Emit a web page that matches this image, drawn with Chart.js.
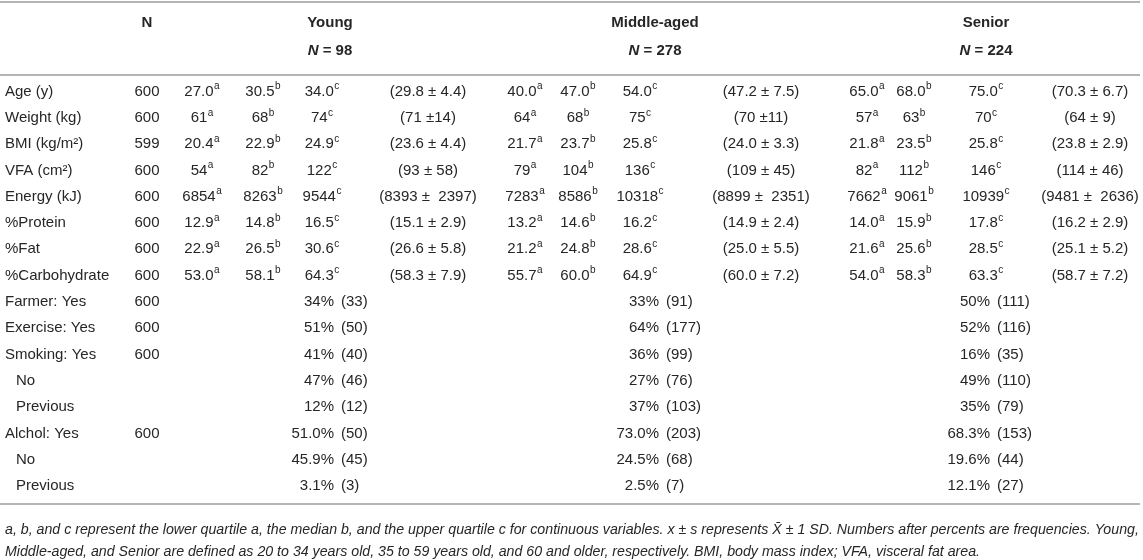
<!DOCTYPE html>
<html>
<head>
<meta charset="utf-8">
<script src="https://cdn.jsdelivr.net/npm/chart.js@4.4.1/dist/chart.umd.min.js"></script>
<style>
html,body{margin:0;padding:0;background:#ffffff;}
#wrap{position:relative;width:1143px;height:560px;overflow:hidden;}
canvas{display:block;}
</style>
</head>
<body>
<div id="wrap"><canvas id="tbl" width="1143" height="560"></canvas></div>
<script>
// ---------------- DATA ----------------
const groups = ["Young", "Middle-aged", "Senior"];
const groupN = [98, 278, 224];
const headerN = "N";

const rowLabels = ["Age (y)", "Weight (kg)", "BMI (kg/m\u00B2)", "VFA (cm\u00B2)", "Energy (kJ)", "%Protein", "%Fat", "%Carbohydrate",
  "Farmer: Yes", "Exercise: Yes", "Smoking: Yes", "No", "Previous", "Alchol: Yes", "No", "Previous"];
const subRows = [11, 12, 14, 15];
const nValues = [600, 600, 599, 600, 600, 600, 600, 600, 600, 600, 600, null, null, 600, null, null];

// continuous variables (rows 0-7): lower quartile (a), median (b), upper quartile (c), mean ± SD
const youngQ1  = ["27.0", "61", "20.4", "54", "6854", "12.9", "22.9", "53.0"];
const youngMed = ["30.5", "68", "22.9", "82", "8263", "14.8", "26.5", "58.1"];
const youngQ3  = ["34.0", "74", "24.9", "122", "9544", "16.5", "30.6", "64.3"];
const youngSD  = ["(29.8 \u00B1 4.4)", "(71 \u00B114)", "(23.6 \u00B1 4.4)", "(93 \u00B1 58)", "(8393 \u00B1  2397)", "(15.1 \u00B1 2.9)", "(26.6 \u00B1 5.8)", "(58.3 \u00B1 7.9)"];

const middleQ1  = ["40.0", "64", "21.7", "79", "7283", "13.2", "21.2", "55.7"];
const middleMed = ["47.0", "68", "23.7", "104", "8586", "14.6", "24.8", "60.0"];
const middleQ3  = ["54.0", "75", "25.8", "136", "10318", "16.2", "28.6", "64.9"];
const middleSD  = ["(47.2 \u00B1 7.5)", "(70 \u00B111)", "(24.0 \u00B1 3.3)", "(109 \u00B1 45)", "(8899 \u00B1  2351)", "(14.9 \u00B1 2.4)", "(25.0 \u00B1 5.5)", "(60.0 \u00B1 7.2)"];

const seniorQ1  = ["65.0", "57", "21.8", "82", "7662", "14.0", "21.6", "54.0"];
const seniorMed = ["68.0", "63", "23.5", "112", "9061", "15.9", "25.6", "58.3"];
const seniorQ3  = ["75.0", "70", "25.8", "146", "10939", "17.8", "28.5", "63.3"];
const seniorSD  = ["(70.3 \u00B1 6.7)", "(64 \u00B1 9)", "(23.8 \u00B1 2.9)", "(114 \u00B1 46)", "(9481 \u00B1  2636)", "(16.2 \u00B1 2.9)", "(25.1 \u00B1 5.2)", "(58.7 \u00B1 7.2)"];

// categorical variables (rows 8-15): percent and frequency
const youngPct   = ["34%", "51%", "41%", "47%", "12%", "51.0%", "45.9%", "3.1%"];
const youngFreq  = [33, 50, 40, 46, 12, 50, 45, 3];
const middlePct  = ["33%", "64%", "36%", "27%", "37%", "73.0%", "24.5%", "2.5%"];
const middleFreq = [91, 177, 99, 76, 103, 203, 68, 7];
const seniorPct  = ["50%", "52%", "16%", "49%", "35%", "68.3%", "19.6%", "12.1%"];
const seniorFreq = [111, 116, 35, 110, 79, 153, 44, 27];

const quartileMarks = ["a", "b", "c"];

const footLine1 = "a, b, and c represent the lower quartile a, the median b, and the upper quartile c for continuous variables. x \u00B1 s represents X\u0304 \u00B1 1 SD. Numbers after percents are frequencies. Young,";
const footLine2 = "Middle-aged, and Senior are defined as 20 to 34 years old, 35 to 59 years old, and 60 and older, respectively. BMI, body mass index; VFA, visceral fat area.";

// ---------------- LAYOUT (scale units) ----------------
const LAYOUT = {
  labelX: 5, indentX: 16, nX: 147,
  groupCols: [[202, 263, 322, 428], [525, 578, 640, 761], [867, 914, 986, 1090]],
  groupCenter: [330, 655, 986],
  pctOffset: 4, freqGap: 7,
  yHead1: -2.604, yHead2: -1.54, yTopRule: -3.39, yHeadRule: -0.63, yBottomRule: 15.68,
  yFoot1: 16.67, yFoot2: 17.50
};
const FONT = "'Liberation Sans', Arial, Helvetica, sans-serif";
const BODY = 15, SUP = 10, FOOT = 14.2;
const INK = "#262626", RULE = "#b4b4b4";

// ---------------- BUILD DATASETS ----------------
const contData = [[youngQ1, youngMed, youngQ3, youngSD], [middleQ1, middleMed, middleQ3, middleSD], [seniorQ1, seniorMed, seniorQ3, seniorSD]];
const catData = [[youngPct, youngFreq], [middlePct, middleFreq], [seniorPct, seniorFreq]];
const datasets = [];

datasets.push({ role: 'label', data: rowLabels.map((t, i) => ({ x: subRows.includes(i) ? LAYOUT.indentX : LAYOUT.labelX, y: i, t })) });
datasets.push({ role: 'center', data: nValues.map((v, i) => v === null ? null : ({ x: LAYOUT.nX, y: i, t: String(v) })).filter(Boolean) });

contData.forEach((cols, g) => {
  cols.forEach((arr, c) => {
    datasets.push({ role: 'center', data: arr.map((t, i) => ({ x: LAYOUT.groupCols[g][c], y: i, t, sup: c < 3 ? quartileMarks[c] : null })) });
  });
});
catData.forEach(([pct, freq], g) => {
  const edge = LAYOUT.groupCenter[g] + LAYOUT.pctOffset;
  datasets.push({ role: 'right', data: pct.map((t, i) => ({ x: edge, y: 8 + i, t })) });
  datasets.push({ role: 'left', data: freq.map((f, i) => ({ x: edge + LAYOUT.freqGap, y: 8 + i, t: "(" + f + ")" })) });
});

// ---------------- PLUGIN: draw table text ----------------
function drawCell(ctx, el, raw, role) {
  ctx.font = BODY + "px " + FONT;
  const w = ctx.measureText(raw.t).width;
  let sw = 0;
  if (raw.sup) { ctx.font = SUP + "px " + FONT; sw = ctx.measureText(raw.sup).width + 0.5; }
  let x0;
  if (role === 'center') x0 = el.x - (w + sw) / 2;
  else if (role === 'right') x0 = el.x - w;
  else x0 = el.x;
  ctx.font = BODY + "px " + FONT;
  ctx.fillText(raw.t, x0, el.y);
  if (raw.sup) {
    ctx.font = SUP + "px " + FONT;
    ctx.fillText(raw.sup, x0 + w + 0.5, el.y - 5);
  }
}

const tablePlugin = {
  id: 'tablePlugin',
  afterDatasetsDraw(chart) {
    const ctx = chart.ctx;
    const xs = chart.scales.x, ys = chart.scales.y;
    ctx.save();
    ctx.fillStyle = INK;
    ctx.textBaseline = 'middle';
    ctx.textAlign = 'left';
    chart.data.datasets.forEach((ds, di) => {
      const meta = chart.getDatasetMeta(di);
      meta.data.forEach((el, i) => drawCell(ctx, el, ds.data[i], ds.role === 'label' ? 'left' : ds.role));
    });

    // rules
    ctx.strokeStyle = RULE;
    ctx.lineWidth = 2;
    [LAYOUT.yTopRule, LAYOUT.yHeadRule, LAYOUT.yBottomRule].forEach(v => {
      const y = Math.round(ys.getPixelForValue(v));
      ctx.beginPath(); ctx.moveTo(xs.left, y); ctx.lineTo(xs.right - 3, y); ctx.stroke();
    });

    // headers
    const h1 = ys.getPixelForValue(LAYOUT.yHead1), h2 = ys.getPixelForValue(LAYOUT.yHead2);
    ctx.textAlign = 'center';
    ctx.font = "bold " + BODY + "px " + FONT;
    ctx.fillText(headerN, xs.getPixelForValue(LAYOUT.nX), h1);
    groups.forEach((gname, g) => {
      const cx = xs.getPixelForValue(LAYOUT.groupCenter[g]);
      ctx.font = "bold " + BODY + "px " + FONT;
      ctx.textAlign = 'center';
      ctx.fillText(gname, cx, h1);
      const rest = " = " + groupN[g];
      ctx.font = "italic bold " + BODY + "px " + FONT;
      const wN = ctx.measureText("N").width;
      ctx.font = "bold " + BODY + "px " + FONT;
      const wR = ctx.measureText(rest).width;
      const x0 = cx - (wN + wR) / 2;
      ctx.textAlign = 'left';
      ctx.font = "italic bold " + BODY + "px " + FONT;
      ctx.fillText("N", x0, h2);
      ctx.font = "bold " + BODY + "px " + FONT;
      ctx.fillText(rest, x0 + wN, h2);
    });

    // footnote
    ctx.textAlign = 'left';
    ctx.font = "italic " + FOOT + "px " + FONT;
    ctx.fillText(footLine1, xs.getPixelForValue(LAYOUT.labelX), ys.getPixelForValue(LAYOUT.yFoot1));
    ctx.fillText(footLine2, xs.getPixelForValue(LAYOUT.labelX), ys.getPixelForValue(LAYOUT.yFoot2));
    ctx.restore();
  }
};

new Chart(document.getElementById('tbl'), {
  type: 'scatter',
  data: { datasets },
  options: {
    responsive: false,
    animation: false,
    events: [],
    layout: { padding: 0 },
    elements: { point: { radius: 0, hoverRadius: 0 } },
    plugins: { legend: { display: false }, tooltip: { enabled: false } },
    scales: {
      x: { type: 'linear', display: false, min: 0, max: 1143 },
      y: { type: 'linear', display: false, reverse: true, min: -3.479, max: 17.814 }
    }
  },
  plugins: [tablePlugin]
});
</script>
</body>
</html>
